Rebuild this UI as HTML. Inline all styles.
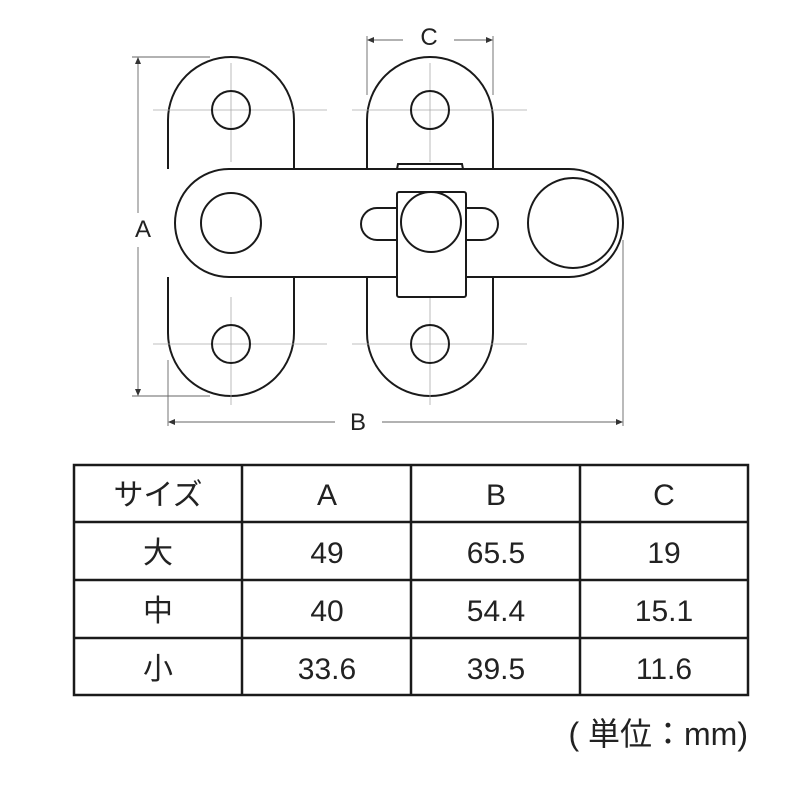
<!DOCTYPE html>
<html><head><meta charset="utf-8"><style>
html,body{margin:0;padding:0;background:#fff;width:800px;height:800px;overflow:hidden}
svg{display:block}
</style></head><body>
<svg width="800" height="800" viewBox="0 0 800 800" xmlns="http://www.w3.org/2000/svg">
<g stroke="#666" stroke-width="0.9" fill="none">
<line x1="132" y1="57" x2="210" y2="57"/><line x1="132" y1="396" x2="210" y2="396"/>
<line x1="138" y1="60" x2="138" y2="213"/><line x1="138" y1="247" x2="138" y2="393"/>
<line x1="168" y1="360" x2="168" y2="426"/><line x1="623" y1="240" x2="623" y2="426"/>
<line x1="171" y1="422" x2="335" y2="422"/><line x1="382" y1="422" x2="620" y2="422"/>
<line x1="367" y1="36" x2="367" y2="95"/><line x1="493" y1="36" x2="493" y2="95"/>
<line x1="370" y1="40" x2="403" y2="40"/><line x1="454" y1="40" x2="490" y2="40"/>
</g>
<g fill="#333">
<polygon points="138,57 135,64 141,64"/><polygon points="138,396 135,389 141,389"/>
<polygon points="168,422 175,419 175,425"/><polygon points="623,422 616,419 616,425"/>
<polygon points="367,40 374,37 374,43"/><polygon points="493,40 486,37 486,43"/>
</g>
<g stroke="#1a1a1a" stroke-width="2" fill="#fff">
<path d="M168,169 L168,120 A63,63 0 0 1 294,120 L294,169"/>
<path d="M168,277 L168,333 A63,63 0 0 0 294,333 L294,277"/>
<path d="M367,169 L367,120 A63,63 0 0 1 493,120 L493,169"/>
<path d="M367,277 L367,333 A63,63 0 0 0 493,333 L493,277"/>
</g>
<g stroke="#aaa" stroke-width="0.8" fill="none">
<line x1="153" y1="110" x2="327" y2="110"/><line x1="352" y1="110" x2="527" y2="110"/>
<line x1="153" y1="344" x2="327" y2="344"/><line x1="352" y1="344" x2="527" y2="344"/>
<line x1="231" y1="63" x2="231" y2="162"/><line x1="430" y1="63" x2="430" y2="162"/>
<line x1="231" y1="297" x2="231" y2="405"/><line x1="430" y1="297" x2="430" y2="405"/>
</g>
<g stroke="#1a1a1a" stroke-width="2" fill="none">
<circle cx="231" cy="110" r="19"/><circle cx="430" cy="110" r="19"/>
<circle cx="231" cy="344" r="19"/><circle cx="430" cy="344" r="19"/>
</g>
<g stroke="#1a1a1a" stroke-width="2" fill="#fff">
<path d="M397,169 L398,164 L462,164 L463,169"/>
<rect x="175" y="169" width="448" height="108" rx="54" ry="54"/>
<circle cx="231" cy="223" r="30"/>
<circle cx="573" cy="223" r="45"/>
<rect x="361" y="208" width="137" height="32" rx="16" ry="16"/>
<rect x="397" y="192" width="69" height="105" rx="2"/>
<circle cx="431" cy="222" r="30"/>
</g>
<g font-family="Liberation Sans, sans-serif" font-size="24" fill="#222" text-anchor="middle">
<text x="143" y="237">A</text><text x="358" y="430">B</text><text x="429" y="45">C</text>
</g>
<g stroke="#1a1a1a" stroke-width="2.5" fill="none">
<rect x="74" y="465" width="674" height="230"/>
<line x1="74" y1="522" x2="748" y2="522"/><line x1="74" y1="580" x2="748" y2="580"/><line x1="74" y1="638" x2="748" y2="638"/>
<line x1="242" y1="465" x2="242" y2="695"/><line x1="411" y1="465" x2="411" y2="695"/><line x1="580" y1="465" x2="580" y2="695"/>
</g>
<g font-family="Liberation Sans, 'Noto Sans CJK JP', sans-serif" font-size="30" fill="#222" text-anchor="middle">
<text x="158" y="505">サイズ</text><text x="327" y="505">A</text><text x="496" y="505">B</text><text x="664" y="505">C</text>
<text x="158" y="563">大</text><text x="327" y="563">49</text><text x="496" y="563">65.5</text><text x="664" y="563">19</text>
<text x="158" y="621">中</text><text x="327" y="621">40</text><text x="496" y="621">54.4</text><text x="664" y="621">15.1</text>
<text x="158" y="679">小</text><text x="327" y="679">33.6</text><text x="496" y="679">39.5</text><text x="664" y="679">11.6</text>
<text x="748" y="745" text-anchor="end" font-size="32">( 単位：mm)</text>
</g>
</svg>
</body></html>
